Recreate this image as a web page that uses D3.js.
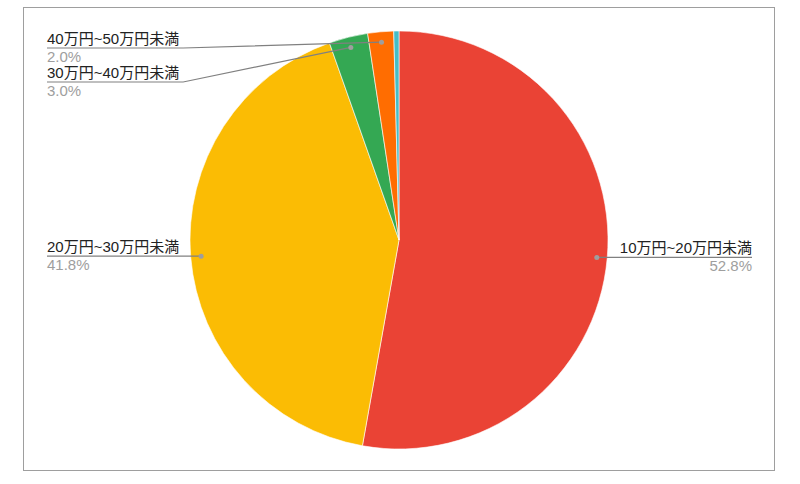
<!DOCTYPE html>
<html>
<head>
<meta charset="utf-8">
<script src="https://cdn.jsdelivr.net/npm/d3@7"></script>
<style>
  body { margin: 0; background: #fff; }
  text { font-family: "Liberation Sans", Arial, "Noto Sans CJK JP", sans-serif; }
</style>
</head>
<body>
<script>
// data, in drawing order (clockwise from 12 o'clock)
var categories = ["10万円~20万円未満", "20万円~30万円未満", "30万円~40万円未満", "40万円~50万円未満", "50万円以上"];
var shares = [52.8, 41.8, 3.0, 2.0, 0.4];
var colors = ["#ea4335", "#fbbc04", "#34a853", "#ff6d01", "#46bdc6"];
var shownLabels = [true, true, true, true, false];

// set up variables
var width = 800,
    height = 484,
    cx = 399,
    cy = 240,
    radius = 209,
    fontSize = 15;

// where each label's underline sits: side and y (null = at the dot)
var labelSide = ["right", "left", "left", "left", null],
    labelY = [null, null, 82, 48, null],
    leftX = 47,
    rightX = 752;

var svg = d3.select("body")
    .append("svg")
        .attr("width", width)
        .attr("height", height);

// chart border
svg.append("rect")
    .attr("x", 23.5)
    .attr("y", 7.5)
    .attr("width", 751)
    .attr("height", 463)
    .attr("fill", "none")
    .attr("stroke", "#9e9e9e");

var pie = d3.pie().sort(null).value(function(d) { return d; });
var arcs = pie(shares);

var arc = d3.arc().innerRadius(0).outerRadius(radius);
var dotArc = d3.arc().innerRadius(radius * 0.95).outerRadius(radius * 0.95);

var g = svg.append("g")
    .attr("transform", "translate(" + cx + "," + cy + ")");

g.selectAll("path")
    .data(arcs)
    .enter()
    .append("path")
    .attr("d", arc)
    .attr("fill", function(d, i) { return colors[i]; })
    .attr("stroke", "#fff")
    .attr("stroke-width", 0.6);

// labels
var labels = svg.append("g").attr("class", "labels");

arcs.forEach(function(d, i) {
    if (!shownLabels[i]) return;
    var p = dotArc.centroid(d);
    var dx = cx + p[0], dy = cy + p[1];
    var side = labelSide[i];
    var ly = labelY[i] == null ? dy : labelY[i];
    var tx = side == "left" ? leftX : rightX;
    var anchor = side == "left" ? "start" : "end";

    var name = labels.append("text")
        .attr("x", tx)
        .attr("y", ly - 4)
        .attr("text-anchor", anchor)
        .attr("font-size", fontSize)
        .attr("fill", "#222")
        .text(categories[i]);

    labels.append("text")
        .attr("x", tx)
        .attr("y", ly + 14)
        .attr("text-anchor", anchor)
        .attr("font-size", fontSize)
        .attr("fill", "#9e9e9e")
        .text(d3.format(".1f")(shares[i]) + "%");

    var w = name.node().getComputedTextLength();
    var pts;
    if (side == "left") {
        pts = [[tx, ly], [tx + w + 4, ly], [dx, dy]];
    } else {
        pts = [[dx, dy], [tx - w - 4, ly], [tx, ly]];
    }
    labels.append("path")
        .attr("d", d3.line()(pts))
        .attr("fill", "none")
        .attr("stroke", "#808080")
        .attr("stroke-width", 1.2);

    labels.append("circle")
        .attr("cx", dx)
        .attr("cy", dy)
        .attr("r", 2.5)
        .attr("fill", "#9e9e9e");
});
</script>
</body>
</html>
